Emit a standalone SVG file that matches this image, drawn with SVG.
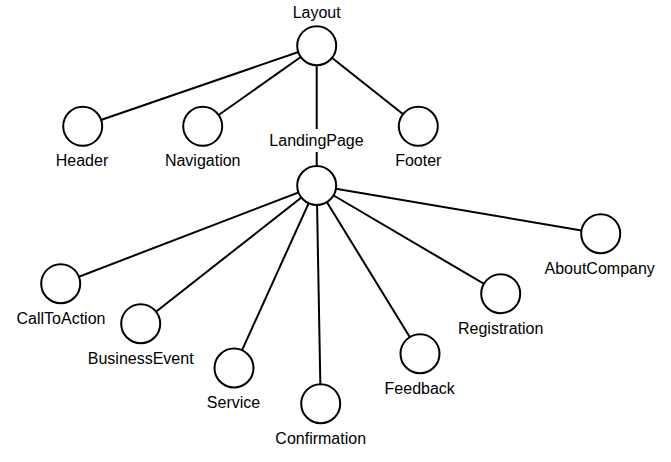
<svg xmlns="http://www.w3.org/2000/svg" width="671" height="462" viewBox="0 0 671 462">
<style>
.edge{stroke:#000;stroke-width:2;fill:none}
.node circle{fill:#fff;stroke:#000;stroke-width:2}
.node text{font-family:"Liberation Sans",Arial,sans-serif;font-size:16px;fill:#000;text-anchor:middle}
</style>
<rect width="671" height="462" fill="#fff"/>
<g id="connectors">
<line class="edge" x1="316.7" y1="45.7" x2="82.7" y2="126.3"/>
<line class="edge" x1="316.7" y1="45.7" x2="202.7" y2="126.3"/>
<line class="edge" x1="316.7" y1="45.7" x2="316.7" y2="185.5"/>
<line class="edge" x1="316.7" y1="45.7" x2="418.3" y2="126.3"/>
<line class="edge" x1="316.7" y1="185.5" x2="60.7" y2="283.7"/>
<line class="edge" x1="316.7" y1="185.5" x2="140.7" y2="323.7"/>
<line class="edge" x1="316.7" y1="185.5" x2="234" y2="368"/>
<line class="edge" x1="316.7" y1="185.5" x2="320.7" y2="403.7"/>
<line class="edge" x1="316.7" y1="185.5" x2="420" y2="353.7"/>
<line class="edge" x1="316.7" y1="185.5" x2="500.7" y2="293.7"/>
<line class="edge" x1="316.7" y1="185.5" x2="600.7" y2="233.7"/>
</g>
<g id="Layout" class="node"><circle cx="316.7" cy="45.7" r="19.5"/><text x="316.7" y="18.3">Layout</text></g>
<g id="Header" class="node"><circle cx="82.7" cy="126.3" r="19.5"/><text x="82" y="166">Header</text></g>
<g id="Navigation" class="node"><circle cx="202.7" cy="126.3" r="19.5"/><text x="202.7" y="166">Navigation</text></g>
<g id="Footer" class="node"><circle cx="418.3" cy="126.3" r="19.5"/><text x="418.3" y="166">Footer</text></g>
<g id="LandingPage" class="node"><rect x="268" y="129" width="97" height="23" fill="#fff"/><circle cx="316.7" cy="185.5" r="19.5"/><text x="316.5" y="145.7">LandingPage</text></g>
<g id="CallToAction" class="node"><circle cx="60.7" cy="283.7" r="19.5"/><text x="61" y="323.5">CallToAction</text></g>
<g id="BusinessEvent" class="node"><circle cx="140.7" cy="323.7" r="19.5"/><text x="140.7" y="363.5">BusinessEvent</text></g>
<g id="Service" class="node"><circle cx="234" cy="368" r="19.5"/><text x="233.5" y="408">Service</text></g>
<g id="Confirmation" class="node"><circle cx="320.7" cy="403.7" r="19.5"/><text x="320.7" y="443.5">Confirmation</text></g>
<g id="Feedback" class="node"><circle cx="420" cy="353.7" r="19.5"/><text x="419.7" y="393.5">Feedback</text></g>
<g id="Registration" class="node"><circle cx="500.7" cy="293.7" r="19.5"/><text x="500.7" y="333.5">Registration</text></g>
<g id="AboutCompany" class="node"><circle cx="600.7" cy="233.7" r="19.5"/><text x="599.7" y="273.5">AboutCompany</text></g>
</svg>
